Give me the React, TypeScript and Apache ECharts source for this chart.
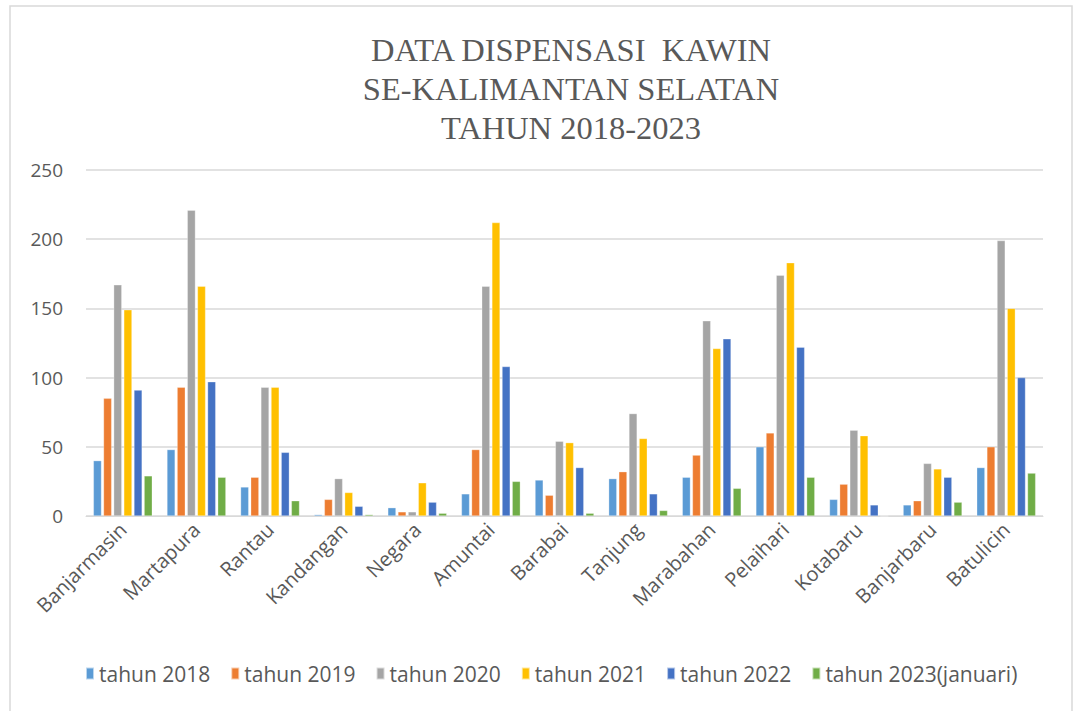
import React, { useEffect, useRef } from "react";
import * as echarts from "echarts";

const categories = ["Banjarmasin","Martapura","Rantau","Kandangan","Negara","Amuntai","Barabai","Tanjung","Marabahan","Pelaihari","Kotabaru","Banjarbaru","Batulicin"];
const seriesNames = ["tahun 2018","tahun 2019","tahun 2020","tahun 2021","tahun 2022","tahun 2023(januari)"];
const colors = ["#5B9BD5","#ED7D31","#A5A5A5","#FFC000","#4472C4","#70AD47"];
const tahun2018 = [40,48,21,1,6,16,26,27,28,50,12,8,35];
const tahun2019 = [85,93,28,12,3,48,15,32,44,60,23,11,50];
const tahun2020 = [167,221,93,27,3,166,54,74,141,174,62,38,199];
const tahun2021 = [149,166,93,17,24,212,53,56,121,183,58,34,150];
const tahun2022 = [91,97,46,7,10,108,35,16,128,122,8,28,100];
const tahun2023 = [29,28,11,1,2,25,2,4,20,28,0,10,31];
const yTicks = [0,50,100,150,200,250];

export default function App() {
  const ref = useRef<HTMLDivElement>(null);
  useEffect(() => {
    document.body.style.margin = "0";
    const chart = echarts.init(ref.current!, null, { renderer: "svg" });
    const data = [tahun2018, tahun2019, tahun2020, tahun2021, tahun2022, tahun2023];
    chart.setOption({
      animation: false,
      color: colors,
      title: {
        text: "DATA DISPENSASI  KAWIN\nSE-KALIMANTAN SELATAN\nTAHUN 2018-2023",
        left: 566,
        textAlign: "center",
        top: 25,
        textStyle: {
          fontFamily: "Liberation Serif",
          fontWeight: "normal",
          fontSize: 32.5,
          lineHeight: 39,
          color: "#595959",
        },
      },
      legend: {
        bottom: 22,
        left: 80,
        icon: "rect",
        itemWidth: 8,
        itemHeight: 12,
        itemGap: 20,
        textStyle: { fontFamily: "Open Sans", fontSize: 21, color: "#595959" },
        data: seriesNames,
      },
      grid: { left: 86, right: 31, top: 170, bottom: 195, containLabel: false },
      xAxis: {
        type: "category",
        data: categories,
        axisLine: { lineStyle: { color: "#D9D9D9", width: 1 } },
        axisTick: { show: false },
        axisLabel: {
          rotate: 45,
          interval: 0,
          margin: 10,
          fontFamily: "Open Sans",
          fontSize: 20,
          color: "#595959",
        },
      },
      yAxis: {
        type: "value",
        min: yTicks[0],
        max: yTicks[yTicks.length - 1],
        interval: 50,
        axisLine: { show: false },
        axisTick: { show: false },
        splitLine: { lineStyle: { color: "#D9D9D9", width: 1.5 } },
        axisLabel: {
          margin: 23,
          fontFamily: "Open Sans",
          fontSize: 19,
          color: "#595959",
        },
      },
      graphic: [
        {
          type: "rect",
          shape: { x: 10, y: 6, width: 1062, height: 715 },
          style: { fill: "none", stroke: "#D9D9D9", lineWidth: 1.5 },
          silent: true,
          z: -10,
        },
      ],
      series: seriesNames.map((name, i) => ({
        name,
        type: "bar",
        data: data[i],
        barGap: "25%",
        barCategoryGap: "20%",
        itemStyle: { borderColor: "rgba(255,255,255,0.6)", borderWidth: 0.5 },
      })),
    });
    return () => chart.dispose();
  }, []);
  return <div ref={ref} style={{ width: 1074, height: 711 }} />;
}
